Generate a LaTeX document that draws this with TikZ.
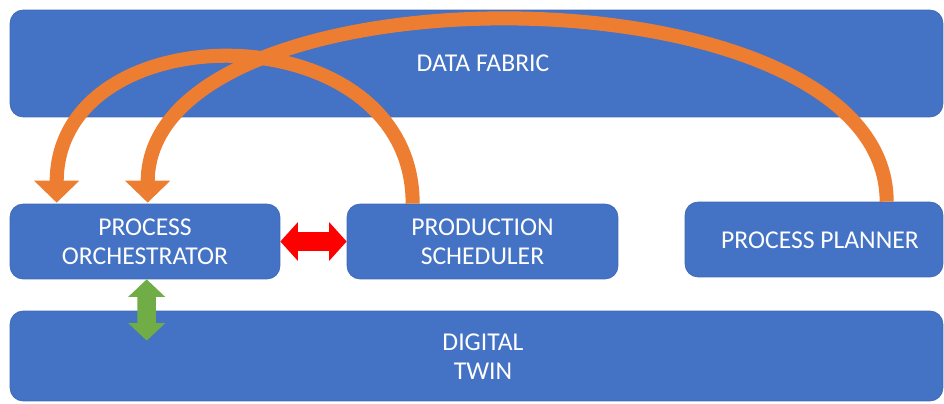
\documentclass[tikz,border=0pt]{standalone}
\usepackage{fontspec}
\setmainfont{Carlito}
\usetikzlibrary{arrows.meta}
\definecolor{boxblue}{HTML}{4472C4}
\definecolor{boxedge}{HTML}{3F68B5}
\definecolor{flowor}{HTML}{ED7D31}
\definecolor{linkred}{HTML}{FF0000}
\definecolor{linkgreen}{HTML}{70AD47}
\tikzset{
  label font/.style={text=white, font=\fontsize{14.6}{16.5}\selectfont},
  block/.style={draw=boxedge, line width=0.4pt, fill=boxblue, rounded corners=0.26cm,
    align=center, inner sep=0pt, label font},
  flow/.style={draw=flowor, line width=8pt,
    -{Triangle[width=25pt,length=12.5pt]}},
  redlink/.style={draw=linkred, line width=11pt,
    {Triangle[width=21.5pt,length=10pt]}-{Triangle[width=21.5pt,length=10pt]}},
  greenlink/.style={draw=linkgreen, line width=10.5pt,
    {Triangle[width=20.5pt,length=10pt]}-{Triangle[width=20.5pt,length=10pt]}}
}
\begin{document}
\begin{tikzpicture}[x=0.02cm,y=-0.02cm]
\useasboundingbox (0,0) rectangle (944,403);

% layers
\node[block, minimum width=18.66cm, minimum height=2.14cm] (fabric) at (476.5,63.5) {};
\node[label font] (fabrictxt) at (483,63.5) {DATA FABRIC};
\node[block, minimum width=18.66cm, minimum height=1.8cm] (twin) at (476.5,356) {};
\node[label font, align=center] (twintxt) at (483,357) {DIGITAL\\TWIN};

% components
\node[block, minimum width=5.4cm, minimum height=1.5cm] (orch) at (145,241.5) {PROCESS\\ORCHESTRATOR};
\node[block, minimum width=5.42cm, minimum height=1.5cm] (sched) at (482.5,241.5) {PRODUCTION\\SCHEDULER};
\node[block, minimum width=5.16cm, minimum height=1.5cm] (plan) at (814,239.5) {};
\node[label font] (plantxt) at (820,240) {PROCESS PLANNER};

% anchor points on the box edges
\path (orch.north west) ++(47,-1) coordinate (o1);
\path (orch.north west) ++(138,-1) coordinate (o2);
\path (sched.north west) ++(66,0) coordinate (s1);
\path (plan.north west) ++(202,0) coordinate (p1);
\path (orch.south west) ++(137,0) coordinate (g1);
\path (twin.north west) ++(137,30) coordinate (g2);

% data flows through the fabric
\draw[flow] (s1) .. controls ++(0,-193) and ++(0,-193) .. (o1);
\draw[flow] (p1) .. controls ++(0,-240) and ++(0,-243) .. (o2);

% direct links
\draw[redlink] (orch.east) -- (sched.west);
\draw[greenlink] (g1) -- (g2);
\end{tikzpicture}
\end{document}
